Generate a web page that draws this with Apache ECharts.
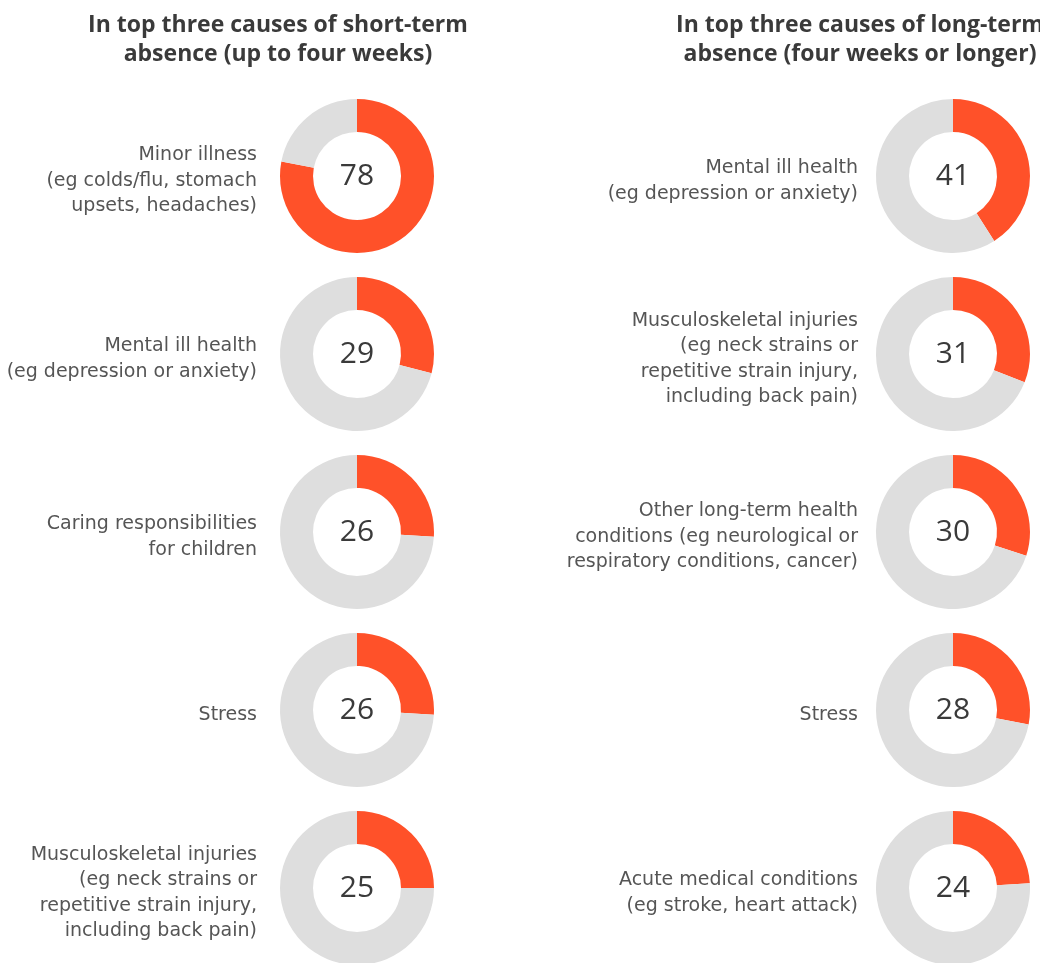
<!DOCTYPE html>
<html>
<head>
<meta charset="utf-8">
<script src="https://cdn.jsdelivr.net/npm/echarts@6/dist/echarts.min.js"></script>
<style>
html,body{margin:0;padding:0;background:#fff;}
#chart{width:1040px;height:963px;}
</style>
</head>
<body>
<div id="chart"></div>
<script>
// Data
var panelTitles = [
  'In top three causes of short-term\nabsence (up to four weeks)',
  'In top three causes of long-term\nabsence (four weeks or longer)'
];
var shortTermCauses = [
  'Minor illness\n(eg colds/flu, stomach\nupsets, headaches)',
  'Mental ill health\n(eg depression or anxiety)',
  'Caring responsibilities\nfor children',
  'Stress',
  'Musculoskeletal injuries\n(eg neck strains or\nrepetitive strain injury,\nincluding back pain)'
];
var shortTermValues = [78, 29, 26, 26, 25];
var longTermCauses = [
  'Mental ill health\n(eg depression or anxiety)',
  'Musculoskeletal injuries\n(eg neck strains or\nrepetitive strain injury,\nincluding back pain)',
  'Other long-term health\nconditions (eg neurological or\nrespiratory conditions, cancer)',
  'Stress',
  'Acute medical conditions\n(eg stroke, heart attack)'
];
var longTermValues = [41, 31, 30, 28, 24];

// Layout
var ORANGE = '#FF5129';
var GREY = '#DEDEDE';
var TEXT = '#3a3a3a';
var columns = [
  {cx: 357, labelRight: 257, titleX: 278, causes: shortTermCauses, values: shortTermValues},
  {cx: 953, labelRight: 858, titleX: 860, causes: longTermCauses, values: longTermValues}
];
var rowY = [176, 354, 532, 710, 888];

var series = [];
var graphics = [];
columns.forEach(function (col, ci) {
  col.values.forEach(function (v, ri) {
    series.push({
      type: 'pie',
      center: [col.cx, rowY[ri]],
      radius: [44, 77],
      startAngle: 90,
      clockwise: true,
      silent: true,
      animation: false,
      labelLine: {show: false},
      data: [
        {value: v, name: 'yes', itemStyle: {color: ORANGE},
          label: {show: true, position: 'center', formatter: String(v),
            fontFamily: 'Open Sans', fontSize: 30, color: TEXT}},
        {value: 100 - v, name: 'no', itemStyle: {color: GREY}, label: {show: false}}
      ]
    });
    graphics.push({
      type: 'text',
      x: col.labelRight,
      y: rowY[ri] + 5,
      style: {
        text: col.causes[ri],
        fill: '#555555',
        font: '19px "DejaVu Sans"',
        align: 'right',
        verticalAlign: 'middle',
        lineHeight: 25.5
      }
    });
  });
  graphics.push({
    type: 'text',
    x: col.titleX,
    y: 40,
    style: {
      text: panelTitles[ci],
      fill: '#3a3a3a',
      font: 'bold 23px "Open Sans"',
      align: 'center',
      verticalAlign: 'middle',
      lineHeight: 29
    }
  });
});

var chart = echarts.init(document.getElementById('chart'), null, {renderer: 'canvas'});
chart.setOption({
  backgroundColor: '#fff',
  animation: false,
  series: series,
  graphic: graphics
});
</script>
</body>
</html>
